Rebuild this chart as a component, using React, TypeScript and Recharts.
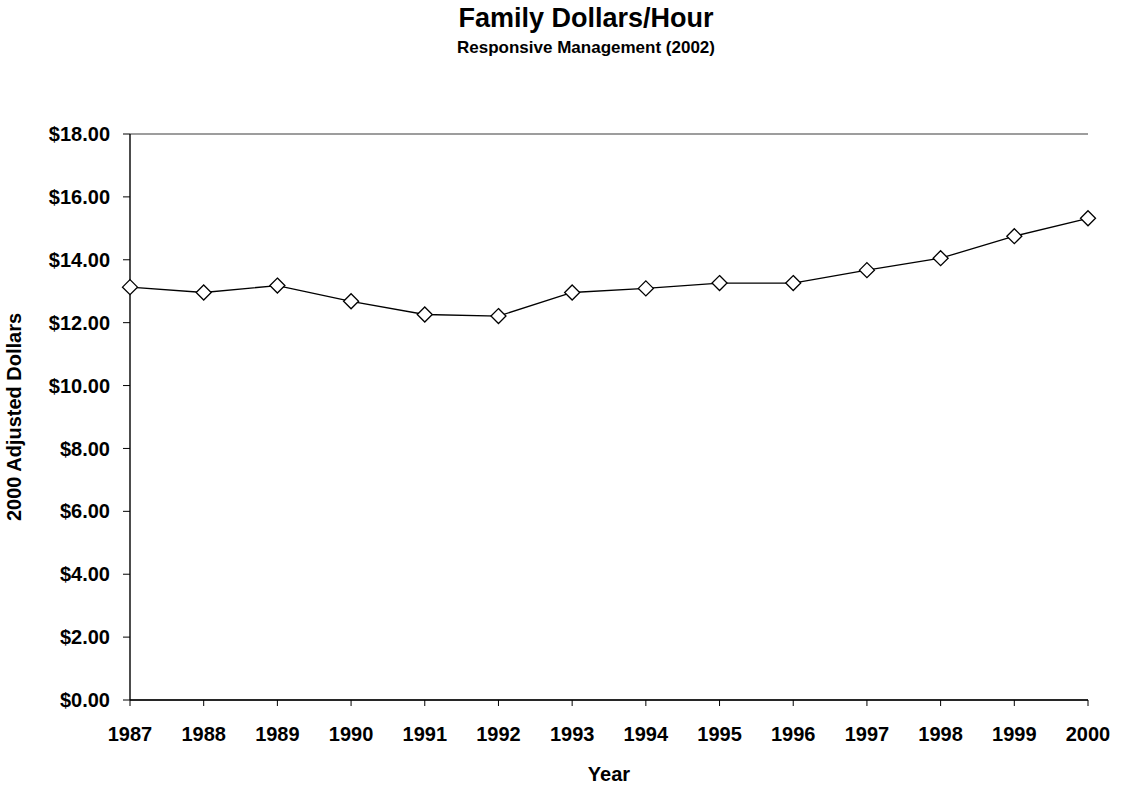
import { LineChart, Line, XAxis, YAxis, CartesianGrid } from "recharts";

const years = ["1987", "1988", "1989", "1990", "1991", "1992", "1993", "1994", "1995", "1996", "1997", "1998", "1999", "2000"];
const dollarsPerHour = [13.13, 12.96, 13.18, 12.68, 12.26, 12.21, 12.96, 13.09, 13.26, 13.26, 13.67, 14.05, 14.75, 15.32];
const yTicks = [0, 2, 4, 6, 8, 10, 12, 14, 16, 18];

const data = years.map((year, i) => ({ year, value: dollarsPerHour[i] }));

const FONT = '"Liberation Sans", Arial, Helvetica, sans-serif';
const tickStyle = { fontSize: 20, fontWeight: 700, fill: "#000", fontFamily: FONT };

const Diamond = ({ cx, cy }: { cx?: number; cy?: number }) => {
  if (cx == null || cy == null) return null;
  const r = 7.5;
  return (
    <path
      d={`M${cx},${cy - r}L${cx + r},${cy}L${cx},${cy + r}L${cx - r},${cy}Z`}
      fill="#fff"
      stroke="#000"
      strokeWidth={1.3}
    />
  );
};

export default function App() {
  return (
    <div style={{ position: "absolute", left: 0, top: 0, width: 1122, height: 787, background: "#fff", fontFamily: FONT }}>
      <div style={{ position: "absolute", left: 0, width: 1172, top: 5, textAlign: "center", fontSize: 27, lineHeight: "27px", fontWeight: 700 }}>
        Family Dollars/Hour
      </div>
      <div style={{ position: "absolute", left: 0, width: 1172, top: 39, textAlign: "center", fontSize: 17, lineHeight: "17px", fontWeight: 700 }}>
        Responsive Management (2002)
      </div>
      <LineChart
        width={1122}
        height={787}
        data={data}
        margin={{ top: 134, right: 34, left: 0, bottom: 0 }}
        style={{ position: "absolute", left: 0, top: 0 }}
      >
        <CartesianGrid horizontal vertical={false} stroke="#3c3c3c" strokeWidth={1.2} />
        <XAxis
          dataKey="year"
          scale="point"
          padding={{ left: 0, right: 0 }}
          height={87}
          tick={tickStyle}
          tickSize={6}
          tickMargin={21}
          axisLine={{ stroke: "#000", strokeWidth: 1.4 }}
          tickLine={{ stroke: "#000", strokeWidth: 1 }}
          interval={0}
          label={{ value: "Year", position: "insideBottom", offset: 6, style: { ...tickStyle } }}
        />
        <YAxis
          yAxisId="left"
          domain={[0, 18]}
          ticks={yTicks}
          width={130}
          tick={tickStyle}
          tickSize={7}
          tickMargin={13}
          tickFormatter={(v: number) => `$${v.toFixed(2)}`}
          axisLine={{ stroke: "#000", strokeWidth: 1.4 }}
          tickLine={{ stroke: "#000", strokeWidth: 1 }}
          label={{
            content: ({ viewBox }: any) => (
              <text
                x={21}
                y={viewBox.y + viewBox.height / 2}
                transform={`rotate(-90, 21, ${viewBox.y + viewBox.height / 2})`}
                textAnchor="middle"
                style={tickStyle}
              >
                2000 Adjusted Dollars
              </text>
            ),
          }}
        />
        <YAxis
          yAxisId="right"
          orientation="right"
          domain={[0, 18]}
          width={0}
          tick={false}
          tickLine={false}
          axisLine={{ stroke: "#555", strokeWidth: 1.2 }}
        />
        <Line
          yAxisId="left"
          type="linear"
          dataKey="value"
          stroke="#000"
          strokeWidth={1.3}
          dot={<Diamond />}
          activeDot={false}
          isAnimationActive={false}
        />
      </LineChart>
    </div>
  );
}
